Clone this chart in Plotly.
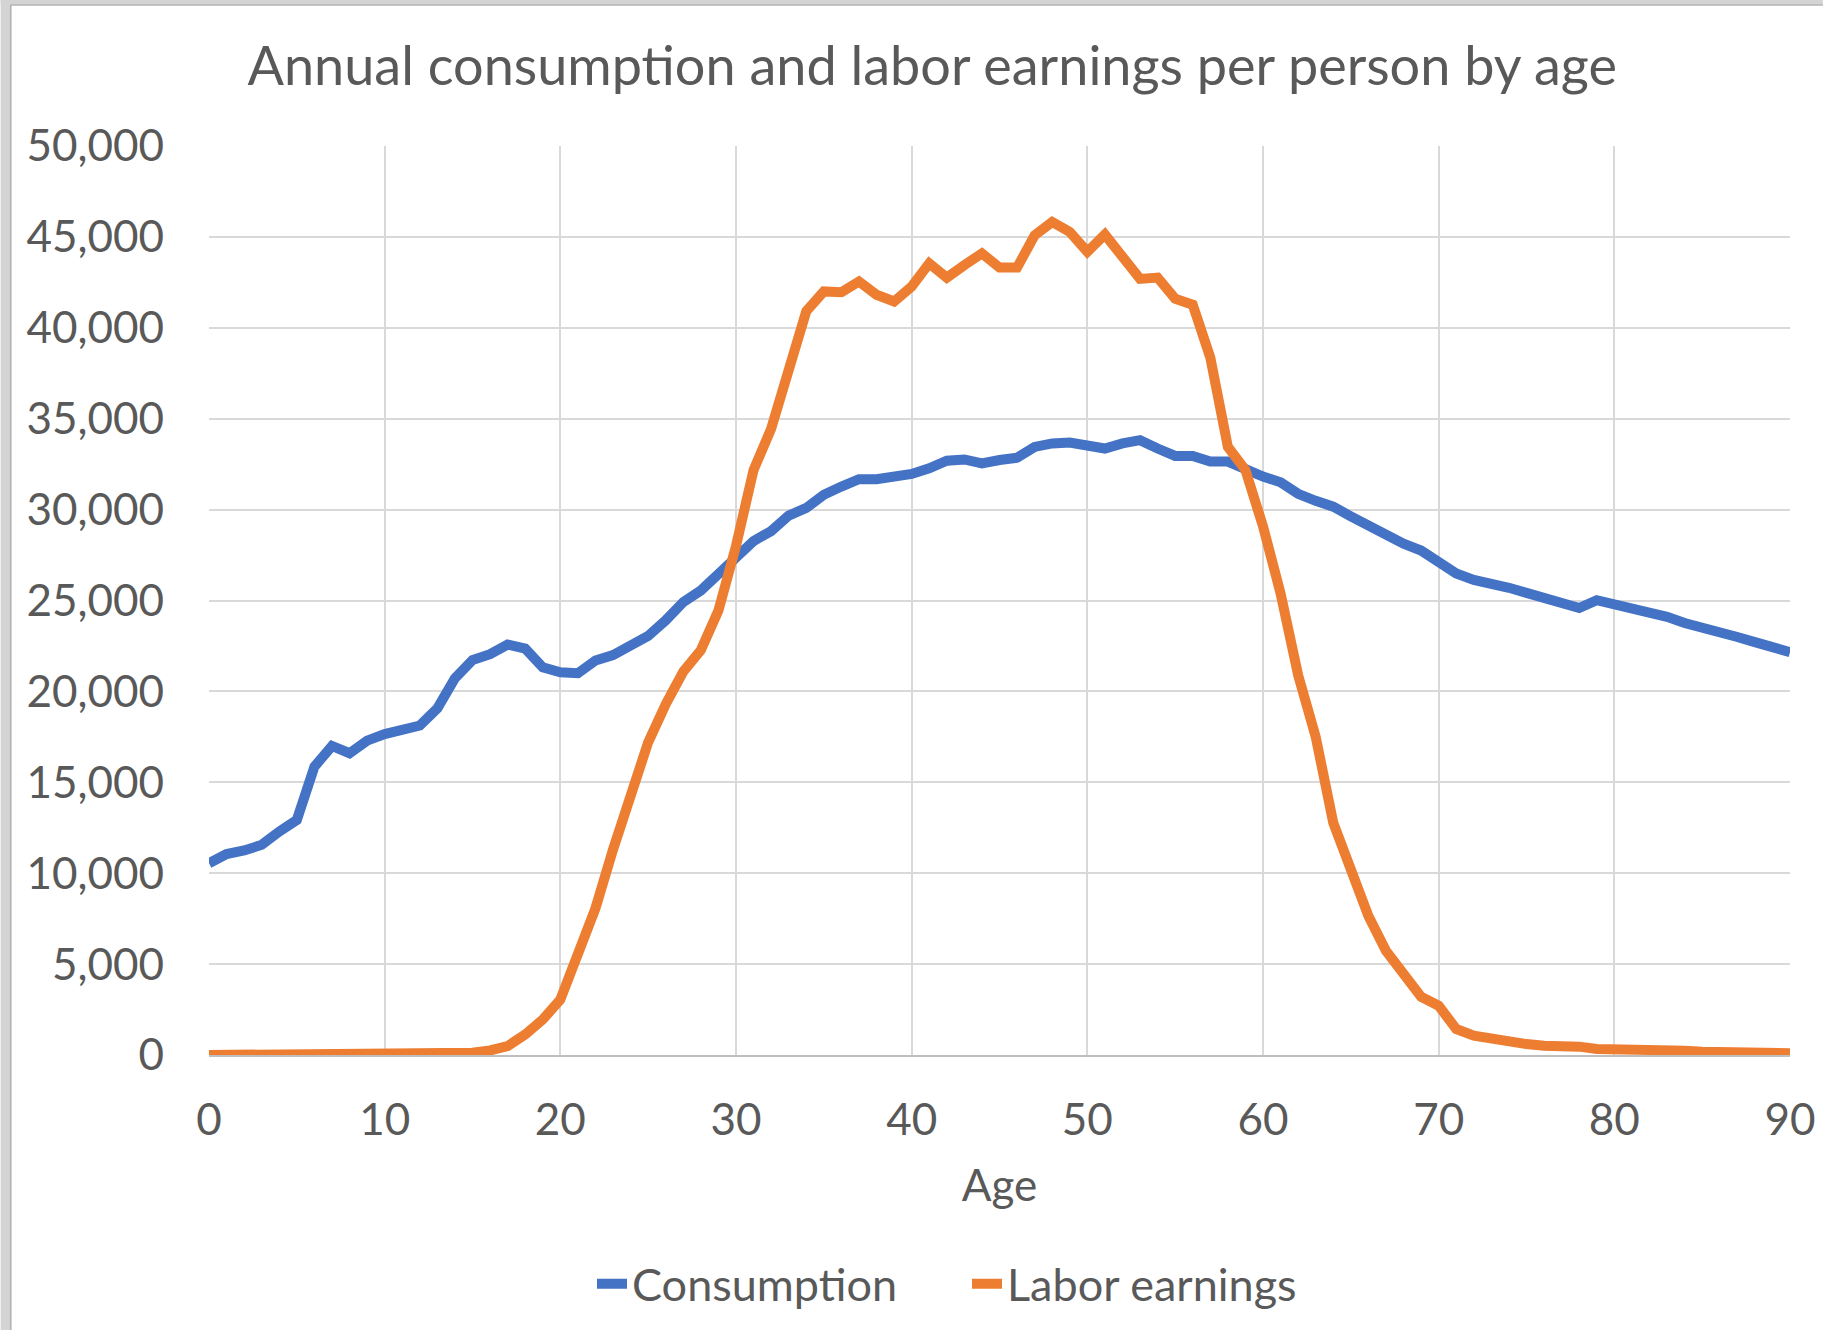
import plotly.graph_objects as go

ages = list(range(0, 91))

consumption = [
    10550, 11050, 11250, 11560, 12290, 12930, 15860, 17000, 16600, 17290,
    17650, 17930, 18120, 19070, 20720, 21720, 22050, 22580, 22360, 21320,
    21050, 21000, 21700, 22000, 22450, 23050, 23910, 24910, 25550, 26450,
    27270, 28270, 28820, 29670, 30090, 30820, 31270, 31670, 31670, 31820,
    31960, 32270, 32690, 32760, 32545, 32730, 32850, 33450, 33640, 33690,
    33545, 33360, 33640, 33820, 33360, 32950, 32950, 32640, 32640, 32180,
    31820, 31500, 30870, 30480, 30160, 29630, 29100, 28580, 28120, 27750,
    27140, 26490, 26130, 25940, 25700, 25420, 25170, 24800, 24590, 25020,
    24800, 24560, 24320, 24100, 23760, 23540, 23270, 22990, 22710, 22430,
    22160,
]

labor_earnings = [
    0, 0, 0, 0, 0, 0, 0, 0, 0, 0,
    0, 0, 0, 0, 30, 120, 250, 490, 1130, 1950,
    3050, 5510, 8070, 11300, 14300, 17200, 19300, 21090, 22270, 24450,
    28000, 32180, 34450, 37730, 40910, 42000, 41960, 42545, 41820, 41450,
    42270, 43545, 42760, 43450, 44090, 43310, 43310, 45090, 45820, 45270,
    44180, 45130, 44000, 42690, 42760, 41600, 41270, 38360, 33450, 32180,
    29080, 25390, 20900, 17500, 12770, 10210, 7650, 5730, 4400, 3200,
    2710, 1430, 1060, 880, 790, 600, 510, 510, 460, 330,
    330, 270, 270, 270, 240, 180, 150, 120, 100, 100,
    100,
]

x_ticks = [0, 10, 20, 30, 40, 50, 60, 70, 80, 90]
y_ticks = [0, 5000, 10000, 15000, 20000, 25000, 30000, 35000, 40000, 45000, 50000]

TEXT = "#595959"
FONT = "Lato"

fig = go.Figure()
fig.add_trace(go.Scatter(x=ages, y=consumption, mode="lines", name="Consumption",
                         line=dict(color="#4472C4", width=10)))
fig.add_trace(go.Scatter(x=ages, y=labor_earnings, mode="lines", name="Labor earnings",
                         line=dict(color="#ED7D31", width=10)))

W, H = 1828, 1330
L, R, T, B = 209, 33, 146, 275
pw, ph = W - L - R, H - T - B

def px_x(p):
    return (p - L) / pw

def px_y(p):
    return (H - B - p) / ph

shapes = [
    dict(type="rect", xref="paper", yref="paper", x0=px_x(0), x1=px_x(11),
         y0=px_y(H), y1=px_y(0), fillcolor="#d4d4d4", line_width=0, layer="above"),
    dict(type="rect", xref="paper", yref="paper", x0=px_x(0), x1=px_x(W),
         y0=px_y(5), y1=px_y(0), fillcolor="#d4d4d4", line_width=0, layer="above"),
    dict(type="line", xref="paper", yref="paper", x0=px_x(10), x1=px_x(10),
         y0=px_y(H), y1=px_y(5), line=dict(color="#b4b4b4", width=1.5), layer="above"),
    dict(type="line", xref="paper", yref="paper", x0=px_x(10), x1=px_x(W),
         y0=px_y(5), y1=px_y(5), line=dict(color="#b4b4b4", width=1.5), layer="above"),
]

fig.update_layout(
    width=W, height=H,
    margin=dict(l=L, r=R, t=T, b=B),
    paper_bgcolor="white", plot_bgcolor="white",
    font=dict(family=FONT, color=TEXT, size=44),
    title=dict(text="Annual consumption and labor earnings per person by age",
               x=0.51, xref="container", xanchor="center",
               y=1 - 66 / H, yref="container", yanchor="middle",
               font=dict(family=FONT, size=54, color=TEXT)),
    showlegend=True,
    legend=dict(orientation="h", xref="container", x=0.529, xanchor="center",
                yref="container", y=1 - 1284 / H, yanchor="middle",
                font=dict(family=FONT, size=45, color=TEXT),
                itemwidth=30, tracegroupgap=0, entrywidth=330),
    shapes=shapes,
)

fig.update_xaxes(
    range=[0, 90], tickvals=x_ticks, ticktext=[str(v) for v in x_ticks],
    showgrid=True, gridcolor="#d9d9d9", gridwidth=2,
    showline=True, linecolor="#bfbfbf", linewidth=2, mirror=False,
    zeroline=False, ticks="", ticklabelstandoff=25,
    tickfont=dict(family=FONT, size=44, color=TEXT),
    title=dict(text="Age", font=dict(family=FONT, size=44, color=TEXT), standoff=27),
)
fig.update_yaxes(
    range=[0, 50000], tickvals=y_ticks, tickformat=",d",
    showgrid=True, gridcolor="#d9d9d9", gridwidth=2,
    showline=False, zeroline=False, ticks="", ticklabelstandoff=44,
    tickfont=dict(family=FONT, size=44, color=TEXT),
)

fig.write_html("out.html", config={"displayModeBar": False},
               post_script="document.body.style.margin='0px';")
